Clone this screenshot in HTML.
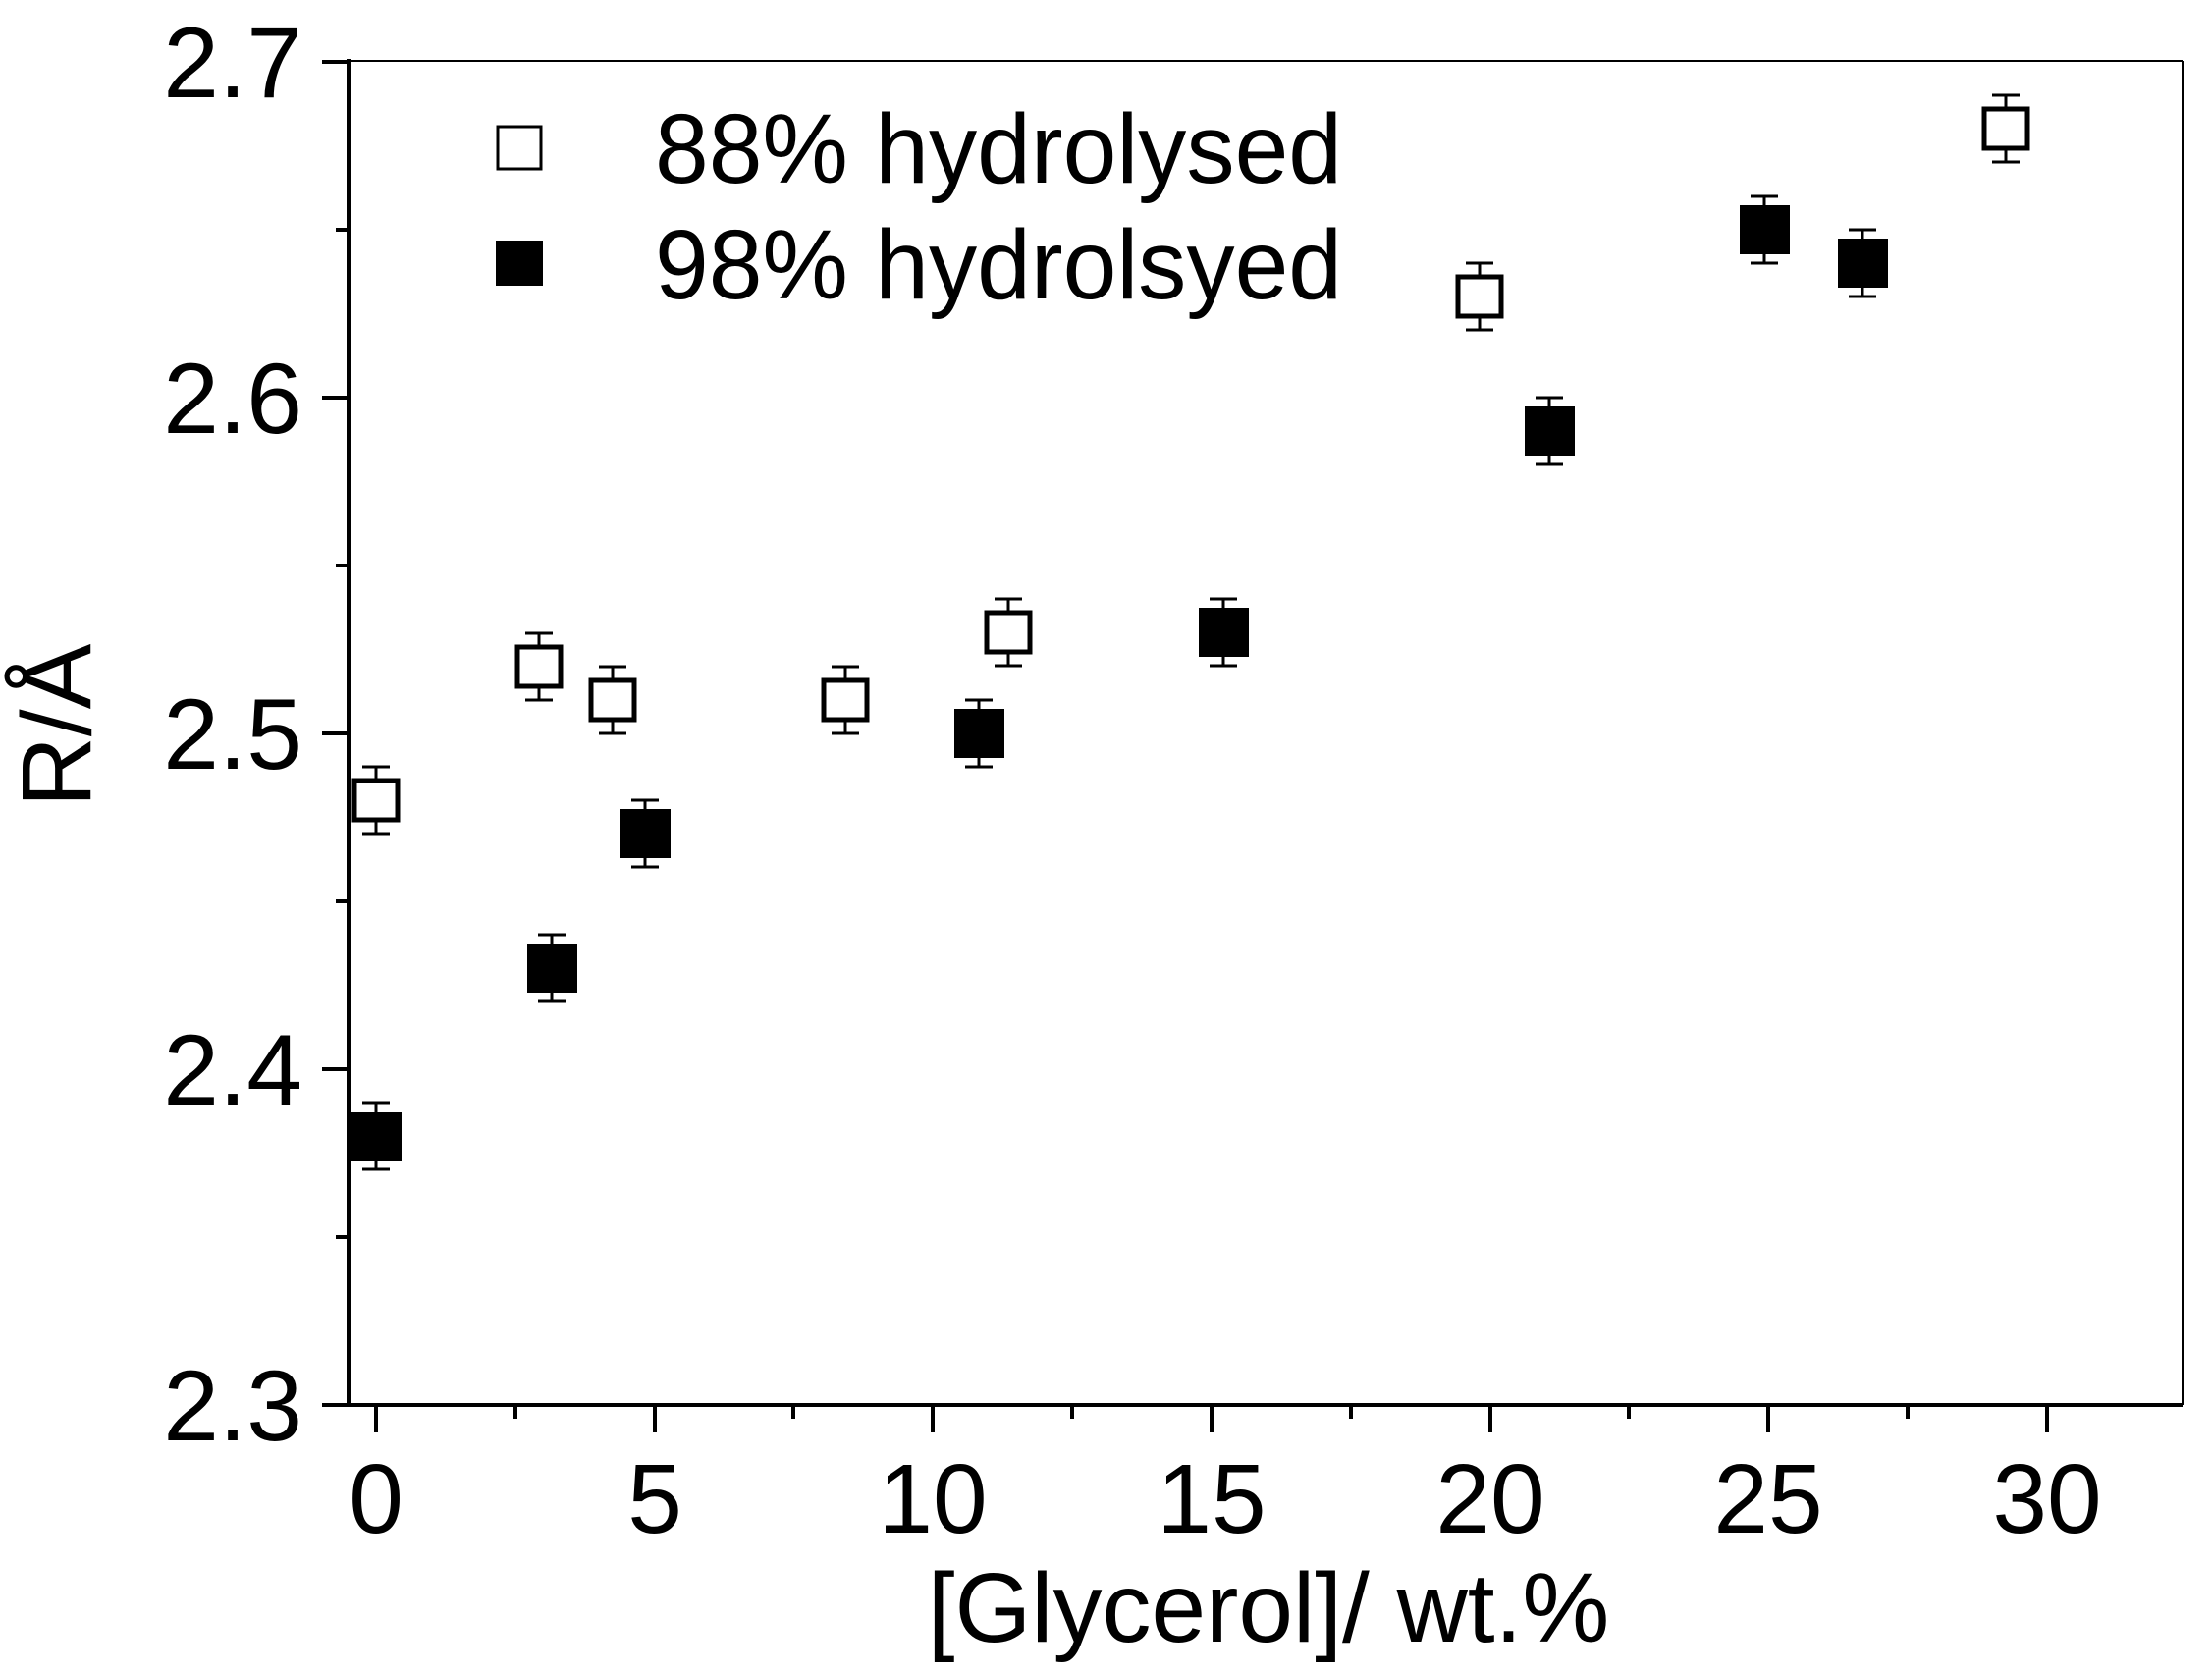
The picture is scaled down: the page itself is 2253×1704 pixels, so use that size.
<!DOCTYPE html>
<html><head><meta charset="utf-8"><style>html,body{margin:0;padding:0;background:#fff}svg{display:block}</style></head>
<body>
<svg width="2253" height="1704" viewBox="0 0 2253 1704" xmlns="http://www.w3.org/2000/svg" font-family="Liberation Sans, Arial, sans-serif">
<rect width="2253" height="1704" fill="#fff"/>
<line x1="355" y1="62" x2="2223" y2="62" stroke="#000" stroke-width="2"/>
<line x1="2223" y1="62" x2="2223" y2="1431" stroke="#000" stroke-width="2"/>
<line x1="355" y1="60" x2="355" y2="1433" stroke="#000" stroke-width="4"/>
<line x1="353" y1="1431" x2="2223" y2="1431" stroke="#000" stroke-width="4"/>
<g stroke="#000" stroke-width="4">
<line x1="328" y1="1431" x2="355" y2="1431"/>
<line x1="328" y1="1089" x2="355" y2="1089"/>
<line x1="328" y1="747" x2="355" y2="747"/>
<line x1="328" y1="405" x2="355" y2="405"/>
<line x1="328" y1="63" x2="355" y2="63"/>
<line x1="342" y1="1260" x2="355" y2="1260"/>
<line x1="342" y1="918" x2="355" y2="918"/>
<line x1="342" y1="576" x2="355" y2="576"/>
<line x1="342" y1="234" x2="355" y2="234"/>
<line x1="383" y1="1431" x2="383" y2="1459"/>
<line x1="667" y1="1431" x2="667" y2="1459"/>
<line x1="950" y1="1431" x2="950" y2="1459"/>
<line x1="1234" y1="1431" x2="1234" y2="1459"/>
<line x1="1518" y1="1431" x2="1518" y2="1459"/>
<line x1="1801" y1="1431" x2="1801" y2="1459"/>
<line x1="2085" y1="1431" x2="2085" y2="1459"/>
<line x1="525" y1="1431" x2="525" y2="1445"/>
<line x1="808" y1="1431" x2="808" y2="1445"/>
<line x1="1092" y1="1431" x2="1092" y2="1445"/>
<line x1="1376" y1="1431" x2="1376" y2="1445"/>
<line x1="1659" y1="1431" x2="1659" y2="1445"/>
<line x1="1943" y1="1431" x2="1943" y2="1445"/>
</g>
<g font-size="102" text-anchor="end" fill="#000">
<text x="308" y="1467">2.3</text>
<text x="308" y="1125">2.4</text>
<text x="308" y="783">2.5</text>
<text x="308" y="441">2.6</text>
<text x="308" y="99">2.7</text>
</g>
<g font-size="100" text-anchor="middle" fill="#000">
<text x="383" y="1561">0</text>
<text x="667" y="1561">5</text>
<text x="950" y="1561">10</text>
<text x="1234" y="1561">15</text>
<text x="1518" y="1561">20</text>
<text x="1801" y="1561">25</text>
<text x="2085" y="1561">30</text>
<text x="1292" y="1672">[Glycerol]/ wt.%</text>
<text transform="translate(92,739) rotate(-90)">R/Å</text>
</g>
<rect x="507" y="129" width="44" height="43" fill="#fff" stroke="#000" stroke-width="3"/>
<rect x="505" y="245" width="48" height="46" fill="#000"/>
<text x="667" y="186" font-size="100" textLength="700" lengthAdjust="spacingAndGlyphs">88% hydrolysed</text>
<text x="667" y="304" font-size="100" textLength="700" lengthAdjust="spacingAndGlyphs">98% hydrolsyed</text>
<g stroke="#000" stroke-width="3" fill="none">
<path d="M383 781v13M369 781h28M383 849v-13M369 849h28"/>
<rect x="361" y="795" width="44" height="40" fill="#fff" stroke-width="5"/>
<path d="M549 645v13M535 645h28M549 713v-13M535 713h28"/>
<rect x="527" y="659" width="44" height="40" fill="#fff" stroke-width="5"/>
<path d="M624 679v13M610 679h28M624 747v-13M610 747h28"/>
<rect x="602" y="693" width="44" height="40" fill="#fff" stroke-width="5"/>
<path d="M861 679v13M847 679h28M861 747v-13M847 747h28"/>
<rect x="839" y="693" width="44" height="40" fill="#fff" stroke-width="5"/>
<path d="M1027 610v13M1013 610h28M1027 678v-13M1013 678h28"/>
<rect x="1005" y="624" width="44" height="40" fill="#fff" stroke-width="5"/>
<path d="M1507 268v13M1493 268h28M1507 336v-13M1493 336h28"/>
<rect x="1485" y="282" width="44" height="40" fill="#fff" stroke-width="5"/>
<path d="M2043 97v13M2029 97h28M2043 165v-13M2029 165h28"/>
<rect x="2021" y="111" width="44" height="40" fill="#fff" stroke-width="5"/>
</g>
<g stroke="#000" stroke-width="3" fill="none">
<path d="M383 1123v12M369 1123h28M383 1191v-12M369 1191h28"/>
<path d="M562 952v12M548 952h28M562 1020v-12M548 1020h28"/>
<path d="M657 815v12M643 815h28M657 883v-12M643 883h28"/>
<path d="M997 713v12M983 713h28M997 781v-12M983 781h28"/>
<path d="M1246 610v12M1232 610h28M1246 678v-12M1232 678h28"/>
<path d="M1578 405v12M1564 405h28M1578 473v-12M1564 473h28"/>
<path d="M1797 200v12M1783 200h28M1797 268v-12M1783 268h28"/>
<path d="M1897 234v12M1883 234h28M1897 302v-12M1883 302h28"/>
</g>
<g fill="#000">
<rect x="358" y="1133" width="51" height="50"/>
<rect x="537" y="961" width="51" height="50"/>
<rect x="632" y="824" width="51" height="50"/>
<rect x="972" y="722" width="51" height="50"/>
<rect x="1221" y="619" width="51" height="50"/>
<rect x="1553" y="414" width="51" height="50"/>
<rect x="1772" y="209" width="51" height="50"/>
<rect x="1872" y="243" width="51" height="50"/>
</g>
</svg>
</body></html>
